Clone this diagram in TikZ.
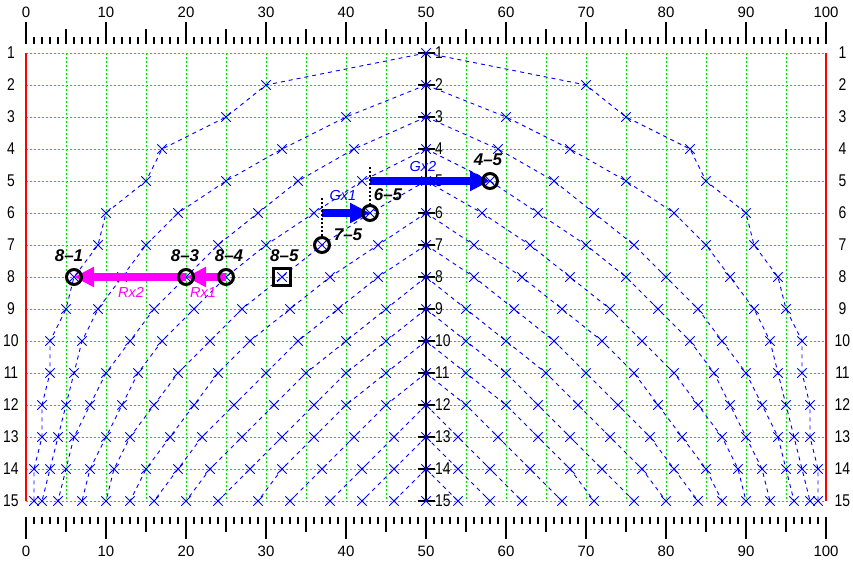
\documentclass[tikz,border=0pt]{standalone}
\usepackage{fontspec}
\setmainfont{Liberation Sans}
\newfontfamily\narrowsans[FakeStretch=0.82]{Liberation Sans}
\usetikzlibrary{arrows.meta,shapes.misc}
\definecolor{gridgreen}{RGB}{0,230,0}
\definecolor{plotblue}{RGB}{0,0,255}
\definecolor{rxmag}{RGB}{255,0,255}
\begin{document}
\begin{tikzpicture}[x=8pt,y=-32pt,
  gridline/.style={gridgreen, line width=1pt, dash pattern=on 2pt off 2pt},
  redline/.style={red, line width=2.5pt},
  tickmark/.style={black, line width=1.3pt},
  axisline/.style={black, line width=1.5pt},
  arch/.style={plotblue, line width=0.9pt, dash pattern=on 4pt off 4pt},
  xmark/.style={cross out, draw=plotblue, line width=0.8pt, minimum size=8.5pt, inner sep=0pt},
  axlab/.style={font=\fontsize{15}{15}\selectfont, inner sep=0pt},
  rowlab/.style={font=\narrowsans\fontsize{17}{17}\selectfont, inner sep=0pt},
  ring/.style={circle, draw=black, line width=3pt, minimum size=15pt, inner sep=0pt},
  sqbox/.style={rectangle, draw=black, line width=3pt, minimum size=17pt, inner sep=0pt},
  annot/.style={font=\fontsize{17}{17}\selectfont\bfseries\itshape, inner sep=0pt},
  gxlab/.style={text=plotblue, font=\fontsize{14.5}{14.5}\selectfont\itshape, inner sep=0pt},
  rxlab/.style={text=rxmag, font=\fontsize{14.5}{14.5}\selectfont\itshape, inner sep=0pt},
  vdot/.style={black, line width=1.5pt, dash pattern=on 2pt off 2pt},
  gxarrow/.style={plotblue, line width=7.5pt, -{Triangle[length=20pt,width=19pt]}},
  rxarrow/.style={rxmag, line width=7.5pt, -{Triangle[length=20pt,width=19pt]}}
]
\useasboundingbox (-3.25,-0.65625) rectangle (103.375,16.9375);
\fill[white] (-3.25,-0.65625) rectangle (103.375,16.9375);

% grid
\foreach \v in {5,10,...,95} \draw[gridline] (\v,1) -- (\v,15);
\foreach \r in {1,...,15} \draw[gridline] (0,\r) -- (100,\r);
\draw[redline] (0,1) -- (0,15);
\draw[redline] (100,1) -- (100,15);

% scales
\foreach \i in {0,...,100}{
  \pgfmathsetmacro\tl{ifthenelse(mod(\i,10)==0,22,ifthenelse(mod(\i,5)==0,15,7.5))}
  \draw[tickmark] (\i,0.71875) -- ++(0,\tl pt);
  \draw[tickmark] (\i,15.49) -- ++(0,-\tl pt);
}
\foreach \i in {0,10,...,100}{
  \node[axlab] (top-\i) at (\i,-0.28) {\i};
  \node[axlab] (bot-\i) at (\i,16.56) {\i};
}

% point coordinates
\foreach \r in {1,...,15} \coordinate (C-\r) at (50,\r);
\foreach \r/\lst in {2/{30},3/{25,40},4/{17,32,41},5/{15,25,34,42},6/{10,19,29,36,43},
  7/{9,15,24,30,37,44},8/{6,12,20,25,32,38,44},9/{5,9,16,21,27,33,39,45},
  10/{3,7,13,17,23,28,34,40,45},11/{3,6,10,14,19,24,30,35,40,45},
  12/{2,5,8,12,16,21,26,31,36,40,45},13/{2,4,6,10,13,18,22,27,32,36,41,46},
  14/{1,3,5,8,11,15,19,23,28,32,37,42,46},15/{1,2,4,7,10,13,16,20,24,29,33,38,42,46}}{
  \foreach \v [count=\k] in \lst {
    \coordinate (L-\r-\k) at (\v,\r);
    \coordinate (R-\r-\k) at ({100-\v},\r);
  }
}

% row labels and central axis
\foreach \r in {1,...,15}{
  \node[rowlab] (rl-\r) at (-1.875,\r) {\r};
  \node[rowlab] (rr-\r) at (102.06,\r) {\r};
  \node[rowlab,anchor=west] (rc-\r) at (51.125,\r) {\r};
  \draw[axisline] ([xshift=-8.5pt]C-\r) -- ([xshift=8.5pt]C-\r);
}
\draw[axisline] (C-1) -- (C-15);

% arches
\foreach \k in {1,...,14}{
  \pgfmathtruncatemacro\ks{\k+1}
  \draw[arch] (C-\k) \foreach \r in {\ks,...,15}{ -- (L-\r-\k) };
  \draw[arch] (C-\k) \foreach \r in {\ks,...,15}{ -- (R-\r-\k) };
}

% markers
\foreach \r in {1,...,15} \node[xmark] (mc-\r) at (C-\r) {};
\foreach \r in {2,...,15}{
  \pgfmathtruncatemacro\n{\r-1}
  \foreach \k in {1,...,\n}{
    \node[xmark] (ml-\r-\k) at (L-\r-\k) {};
    \node[xmark] (mr-\r-\k) at (R-\r-\k) {};
  }
}

% arrows
\coordinate (g1s) at (37,6);
\coordinate (g2s) at (43,5);
\coordinate (d1) at (37,5.53);
\coordinate (d2) at (43,4.56);
\draw[gxarrow] (g1s) -- (L-6-5);
\draw[gxarrow] (g2s) -- (R-5-4);
\draw[rxarrow] (L-8-4) -- (L-8-3);
\draw[rxarrow] (L-8-3) -- (L-8-1);

% marked points
\node[ring] (n81) at (L-8-1) {};
\node[ring] (n83) at (L-8-3) {};
\node[ring] (n84) at (L-8-4) {};
\node[sqbox] (n85) at (L-8-5) {};
\node[ring] (n75) at (L-7-5) {};
\node[ring] (n65) at (L-6-5) {};
\node[ring] (n45) at (R-5-4) {};
\draw[vdot] (d1) -- (n75);
\draw[vdot] (d2) -- (n65);

% labels
\node[annot] (t81) at (5.375,7.34) {8–1};
\node[annot] (t83) at (19.875,7.34) {8–3};
\node[annot] (t84) at (25.375,7.34) {8–4};
\node[annot] (t85) at (32.3,7.34) {8–5};
\node[annot] (t75) at (40.25,6.69) {7–5};
\node[annot] (t65) at (45.25,5.44) {6–5};
\node[annot] (t45) at (57.75,4.34) {4–5};
\node[gxlab] (lg1) at (39.625,5.44) {Gx1};
\node[gxlab] (lg2) at (49.625,4.56) {Gx2};
\node[rxlab] (lr1) at (22.125,8.47) {Rx1};
\node[rxlab] (lr2) at (13.125,8.47) {Rx2};
\end{tikzpicture}
\end{document}
